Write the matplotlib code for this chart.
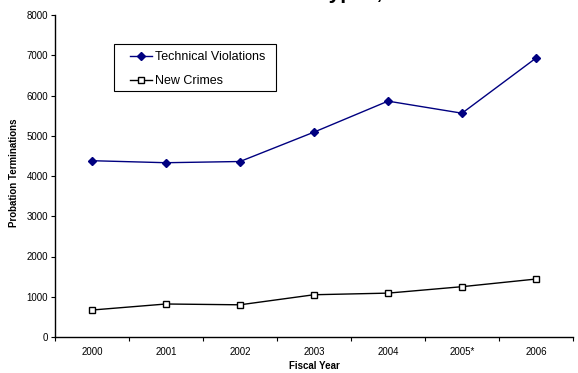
import matplotlib
matplotlib.use("Agg")
import matplotlib.pyplot as plt
from matplotlib.patches import Rectangle
from matplotlib.ticker import FixedLocator

years = ["2000", "2001", "2002", "2003", "2004", "2005*", "2006"]
technical_violations = [4380, 4330, 4360, 5090, 5860, 5560, 6930]
new_crimes = [670, 820, 800, 1050, 1090, 1250, 1440]
y_ticks = [0, 1000, 2000, 3000, 4000, 5000, 6000, 7000, 8000]

plt.rcParams["font.family"] = ["Liberation Sans", "DejaVu Sans"]

W, H = 578, 373
fig = plt.figure(figsize=(W / 100, H / 100), dpi=100)
fig.patch.set_facecolor("white")

left, right, top, bottom = 55, 573, 15, 337
ax = fig.add_axes([left / W, (H - bottom) / H, (right - left) / W, (bottom - top) / H])

x = list(range(len(years)))
ax.plot(x, technical_violations, color="#000080", lw=1.0, marker="D",
        markersize=4.0, markerfacecolor="#000080", markeredgecolor="#000080",
        label="Technical Violations", zorder=3)
ax.plot(x, new_crimes, color="black", lw=1.0, marker="s",
        markersize=4.6, markerfacecolor="white", markeredgecolor="black",
        markeredgewidth=1.0, label="New Crimes", zorder=3)

ax.set_xlim(-0.5, len(years) - 0.5)
ax.set_ylim(0, 8000)
ax.set_yticks(y_ticks)
ax.set_yticklabels([str(v) for v in y_ticks], fontsize=7.0)

# category boundaries carry the tick marks, centres carry the labels
ax.xaxis.set_major_locator(FixedLocator([i - 0.5 for i in range(len(years) + 1)]))
ax.xaxis.set_major_formatter(plt.NullFormatter())
ax.xaxis.set_minor_locator(FixedLocator(x))
ax.set_xticklabels(years, minor=True, fontsize=7.0)
ax.tick_params(axis="x", which="major", direction="out", length=3, width=0.8)
ax.tick_params(axis="x", which="minor", length=0, pad=7.5)
ax.tick_params(axis="y", direction="out", length=3, width=0.8, pad=2)

for side in ("top", "right"):
    ax.spines[side].set_visible(False)
for side in ("left", "bottom"):
    ax.spines[side].set_linewidth(1.0)
    ax.spines[side].set_color("black")

fig.text(14 / W, 1 - 173 / H, "Probation Terminations", rotation=90,
         ha="center", va="center", fontsize=7.0, fontweight="bold")
fig.text((left + right) / 2 / W, 1 - 366 / H, "Fiscal Year",
         ha="center", va="center", fontsize=7.0, fontweight="bold")

# chart title sits just above the visible area
fig.text(0.5, 1 + 1.5 / H, "Probation Termination Types, 2000-2006",
         ha="center", va="baseline", fontsize=15, fontweight="bold")

# legend box drawn separately so its padding can be set freely
bx0, bx1, by0, by1 = 114, 276, 44, 91
fig.add_artist(Rectangle((bx0 / W, 1 - by1 / H), (bx1 - bx0) / W, (by1 - by0) / H,
                         transform=fig.transFigure, facecolor="white",
                         edgecolor="black", linewidth=0.8, zorder=4))
leg = fig.legend(*ax.get_legend_handles_labels(), loc="upper left",
                 bbox_to_anchor=(126 / W, 1 - 47.5 / H),
                 fontsize=9.0, frameon=False, borderpad=0.0,
                 handlelength=1.8, handletextpad=0.2, labelspacing=0.95,
                 borderaxespad=0.3)
leg.set_zorder(5)

fig.savefig("out.png", dpi=100, facecolor="white")
